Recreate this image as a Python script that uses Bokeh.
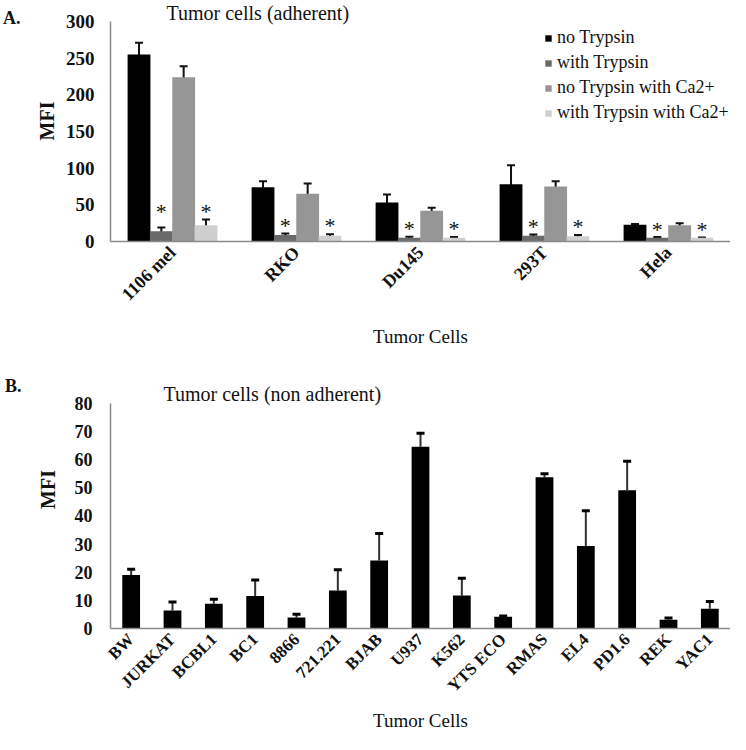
from bokeh.plotting import figure
from bokeh.layouts import column
from bokeh.models import (ColumnDataSource, FactorRange, Range1d, Whisker, TeeHead,
                          Legend, LegendItem, Label, FixedTicker, LinearAxis)
from bokeh.transform import dodge
from bokeh.core.properties import value
from bokeh.embed import file_html
from bokeh.resources import INLINE

# ---------------- data ----------------
cells_a = ["1106 mel", "RKO", "Du145", "293T", "Hela"]
no_tryp = [255, 74, 53, 78, 23]
no_tryp_err = [16, 8, 11, 26, 1]
with_tryp = [14, 9, 5, 8, 5]
with_tryp_err = [5, 2, 1.5, 1.5, 1]
no_tryp_ca = [224, 65, 42, 75, 22]
no_tryp_ca_err = [15, 14, 4, 7, 3]
with_tryp_ca = [22, 8, 5, 7, 5]
with_tryp_ca_err = [8, 2, 1, 2, 0.5]
series_names = ["no Trypsin", "with Trypsin", "no Trypsin with Ca2+", "with Trypsin with Ca2+"]
yticks_a = [0, 50, 100, 150, 200, 250, 300]

cells_b = ["BW", "JURKAT", "BCBL1", "BC1", "8866", "721.221", "BJAB", "U937", "K562",
           "YTS ECO", "RMAS", "EL4", "PD1.6", "REK", "YAC1"]
mfi_b = [19, 6.4, 8.8, 11.5, 3.9, 13.5, 24.1, 64.5, 11.7, 4.2, 53.7, 29.3, 49.1, 3.1, 7.0]
err_b = [2, 3, 1.6, 5.7, 1.2, 7.4, 9.6, 4.8, 6.1, 0.2, 1.2, 12.5, 10.3, 0.6, 2.6]
yticks_b = [0, 10, 20, 30, 40, 50, 60, 70, 80]

SERIF = "Liberation Serif"
AXIS_COL = "#8a8a8a"
TXT = "#111111"
colors = ["#000000", "#6a6a6a", "#969696", "#cfcfcf"]
offsets = [-0.27, -0.09, 0.09, 0.27]


def style_axes(p):
    for ax in (p.xaxis[0], p.yaxis[0]):
        ax.axis_line_color = AXIS_COL
        ax.axis_line_width = 1.5
        ax.major_tick_line_color = None
        ax.minor_tick_line_color = None
        ax.major_tick_in = 0
        ax.major_tick_out = 0
        ax.major_label_text_font = SERIF
        ax.major_label_text_font_style = "bold"
        ax.major_label_text_color = TXT
        ax.axis_label_text_font = SERIF
        ax.axis_label_text_color = TXT
    p.yaxis.axis_label_text_font_style = "bold"
    p.xaxis.axis_label_text_font_style = "normal"
    p.xgrid.grid_line_color = None
    p.ygrid.grid_line_color = None
    p.outline_line_color = None


def panel_tag(p, tick, text, standoff):
    ax = LinearAxis(ticker=FixedTicker(ticks=[tick]),
                    major_label_overrides={tick: text, str(tick): text},
                    axis_line_color=None, major_tick_line_color=None,
                    minor_tick_line_color=None, major_tick_in=0, major_tick_out=0,
                    major_label_standoff=standoff, major_label_text_font=SERIF,
                    major_label_text_font_style="bold", major_label_text_font_size="18px",
                    major_label_text_color=TXT)
    p.add_layout(ax, "left")


# ---------------- panel A ----------------
pa = figure(x_range=FactorRange(*cells_a, range_padding=0), y_range=Range1d(0, 328.5),
            width=730, height=350, output_backend="svg", toolbar_location=None,
            min_border_left=106, min_border_right=0, min_border_top=0, min_border_bottom=108)
style_axes(pa)
pa.yaxis.ticker = FixedTicker(ticks=yticks_a)
pa.yaxis.bounds = (0, 300)
pa.yaxis.major_label_text_font_size = "19px"
pa.yaxis.major_label_standoff = 16
pa.yaxis.axis_label = "MFI"
pa.yaxis.axis_label_text_font_size = "20px"
pa.yaxis.axis_label_standoff = 5
pa.xaxis.major_label_orientation = 0.785398
pa.xaxis.major_label_text_font_size = "18px"
pa.xaxis.major_label_standoff = 8
pa.xaxis.axis_label = "Tumor Cells"
pa.xaxis.axis_label_text_font_size = "19px"
pa.xaxis.axis_label_standoff = 12
panel_tag(pa, 304, "A.", 12)

vals = [no_tryp, with_tryp, no_tryp_ca, with_tryp_ca]
errs = [no_tryp_err, with_tryp_err, no_tryp_ca_err, with_tryp_ca_err]
star_y = [max(with_tryp[i] + with_tryp_err[i], with_tryp_ca[i] + with_tryp_ca_err[i])
          for i in range(len(cells_a))]
items = []
for k in range(4):
    src = ColumnDataSource(dict(cell=cells_a, v=vals[k],
                                lo=[a - b for a, b in zip(vals[k], errs[k])],
                                hi=[a + b for a, b in zip(vals[k], errs[k])],
                                sy=star_y))
    r = pa.vbar(x=dodge("cell", offsets[k], range=pa.x_range), top="v", width=0.184,
                source=src, fill_color=colors[k], line_color=None)
    items.append(LegendItem(label=series_names[k], renderers=[r]))
    w = Whisker(base=dodge("cell", offsets[k], range=pa.x_range), lower="lo", upper="hi",
                source=src, line_color=TXT, line_width=2,
                upper_head=TeeHead(size=8, line_width=2, line_color=TXT),
                lower_head=TeeHead(size=8, line_width=2, line_color=TXT))
    pa.add_layout(w)
    if k in (1, 3):
        pa.text(x=dodge("cell", offsets[k], range=pa.x_range), y="sy", text=value("*"),
                source=src, text_font=value(SERIF), text_font_size="22px",
                text_align="center", text_baseline="middle", y_offset=-8, text_color=TXT)

leg = Legend(items=items, location=(434, 118), orientation="vertical",
             glyph_width=8, glyph_height=8, label_height=21, spacing=4, padding=0,
             margin=0, label_standoff=5, border_line_color=None,
             background_fill_alpha=0,
             label_text_font=SERIF, label_text_font_size="18px", label_text_color=TXT)
pa.add_layout(leg)

pa.add_layout(Label(x=56, y=312, x_units="screen", y_units="data", text="Tumor cells (adherent)",
                    text_font=SERIF, text_font_size="20px", text_baseline="middle",
                    text_color=TXT))

# ---------------- panel B ----------------
pb = figure(x_range=FactorRange(*cells_b, range_padding=0), y_range=Range1d(0, 98.7),
            width=730, height=384, output_backend="svg", toolbar_location=None,
            min_border_left=108, min_border_right=0, min_border_top=0, min_border_bottom=94)
style_axes(pb)
pb.yaxis.ticker = FixedTicker(ticks=yticks_b)
pb.yaxis.bounds = (0, 80)
pb.yaxis.major_label_text_font_size = "18px"
pb.yaxis.major_label_standoff = 18
pb.yaxis.axis_label = "MFI"
pb.yaxis.axis_label_text_font_size = "20px"
pb.yaxis.axis_label_standoff = 13
pb.xaxis.major_label_orientation = 0.785398
pb.xaxis.major_label_text_font_size = "17px"
pb.xaxis.major_label_standoff = 8
pb.xaxis.axis_label = "Tumor Cells"
pb.xaxis.axis_label_text_font_size = "19px"
pb.xaxis.axis_label_standoff = 5
panel_tag(pb, 86, "B.", 12)

srcb = ColumnDataSource(dict(cell=cells_b, v=mfi_b, hi=[a + b for a, b in zip(mfi_b, err_b)]))
pb.vbar(x="cell", top="v", width=0.43, source=srcb, fill_color="#000000", line_color=None)
pb.add_layout(Whisker(base="cell", lower="v", upper="hi", source=srcb,
                      line_color="#333333", line_width=2,
                      upper_head=TeeHead(size=8, line_width=3, line_color="#000000"),
                      lower_head=None))
pb.add_layout(Label(x=53, y=83.4, x_units="screen", y_units="data",
                    text="Tumor cells (non adherent)",
                    text_font=SERIF, text_font_size="20px", text_baseline="middle",
                    text_color=TXT))

layout = column(pa, pb, spacing=0)
open("out.html", "w").write(file_html(layout, INLINE))
